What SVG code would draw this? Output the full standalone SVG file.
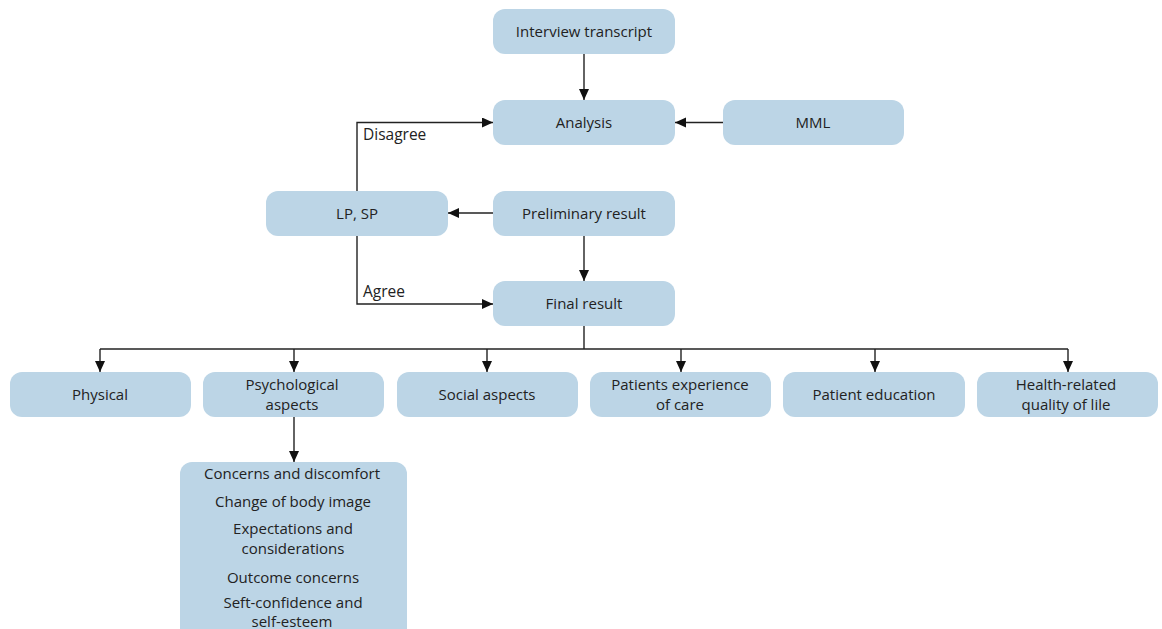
<svg xmlns="http://www.w3.org/2000/svg" width="1162" height="629" viewBox="0 0 1162 629">
<style>
.box{fill:#bcd5e6;}
.t{font-family:"Open Sans","Liberation Sans",sans-serif;font-size:15px;fill:#222;text-anchor:middle;dominant-baseline:central;}
.lbl{font-family:"Open Sans","Liberation Sans",sans-serif;font-size:15.5px;fill:#222;dominant-baseline:central;}
.c{fill:none;stroke:#222;stroke-width:1.4;marker-end:url(#ah);}
.l{fill:none;stroke:#222;stroke-width:1.4;}
</style>
<defs>
<marker id="ah" markerUnits="userSpaceOnUse" markerWidth="12" markerHeight="12" refX="11" refY="5" orient="auto">
<path d="M0,0 L11,5 L0,10 z" fill="#111"/>
</marker>
</defs>
<rect width="1162" height="629" fill="#fff"/>
<g id="n-interview"><rect class="box" x="493" y="9" width="182" height="45" rx="12"/><text class="t" x="584" y="31">Interview transcript</text></g>
<g id="n-analysis"><rect class="box" x="493" y="100" width="182" height="45" rx="12"/><text class="t" x="584" y="122">Analysis</text></g>
<g id="n-mml"><rect class="box" x="723" y="100" width="181" height="45" rx="12"/><text class="t" x="813" y="122">MML</text></g>
<g id="n-lpsp"><rect class="box" x="266" y="191" width="182" height="45" rx="12"/><text class="t" x="357" y="213">LP, SP</text></g>
<g id="n-prelim"><rect class="box" x="493" y="191" width="182" height="45" rx="12"/><text class="t" x="584" y="213">Preliminary result</text></g>
<g id="n-final"><rect class="box" x="493" y="281" width="182" height="45" rx="12"/><text class="t" x="584" y="303">Final result</text></g>
<g id="n-physical"><rect class="box" x="10" y="372" width="181" height="45" rx="12"/><text class="t" x="100" y="394">Physical</text></g>
<g id="n-psych"><rect class="box" x="203" y="372" width="181" height="45" rx="12"/><text class="t" x="292" y="383.5">Psychological</text><text class="t" x="292" y="403.5">aspects</text></g>
<g id="n-social"><rect class="box" x="397" y="372" width="181" height="45" rx="12"/><text class="t" x="487" y="394">Social aspects</text></g>
<g id="n-experience"><rect class="box" x="590" y="372" width="181" height="45" rx="12"/><text class="t" x="680" y="383.5">Patients experience</text><text class="t" x="680" y="403.5">of care</text></g>
<g id="n-education"><rect class="box" x="783" y="372" width="182" height="45" rx="12"/><text class="t" x="874" y="394">Patient education</text></g>
<g id="n-hrqol"><rect class="box" x="977" y="372" width="181" height="45" rx="12"/><text class="t" x="1066" y="383.5">Health-related</text><text class="t" x="1066" y="403.5">quality of lile</text></g>
<g id="n-psychsub"><rect class="box" x="180" y="462" width="227" height="180" rx="12"/>
<text class="t" x="292" y="473">Concerns and discomfort</text>
<text class="t" x="293" y="501">Change of body image</text>
<text class="t" x="293" y="528">Expectations and</text>
<text class="t" x="293" y="548">considerations</text>
<text class="t" x="293" y="577">Outcome concerns</text>
<text class="t" x="293" y="602">Seft-confidence and</text>
<text class="t" x="292" y="621">self-esteem</text>
</g>
<g id="connectors">
<path class="c" d="M584,54 V100"/>
<path class="c" d="M723,122.5 H675"/>
<path class="c" d="M493,213 H448"/>
<path class="c" d="M584,236 V281"/>
<path class="c" d="M357,191 V122.5 H493"/>
<path class="c" d="M357,236 V304 H493"/>
<path class="l" d="M584,326 V349"/>
<path class="l" d="M100,349 H1068"/>
<path class="c" d="M100,349 V372"/>
<path class="c" d="M294,349 V372"/>
<path class="c" d="M487,349 V372"/>
<path class="c" d="M681,349 V372"/>
<path class="c" d="M875,349 V372"/>
<path class="c" d="M1068,349 V372"/>
<path class="c" d="M294,417 V462"/>
<text class="lbl" x="363" y="134">Disagree</text>
<text class="lbl" x="363" y="291">Agree</text>
</g>
</svg>
